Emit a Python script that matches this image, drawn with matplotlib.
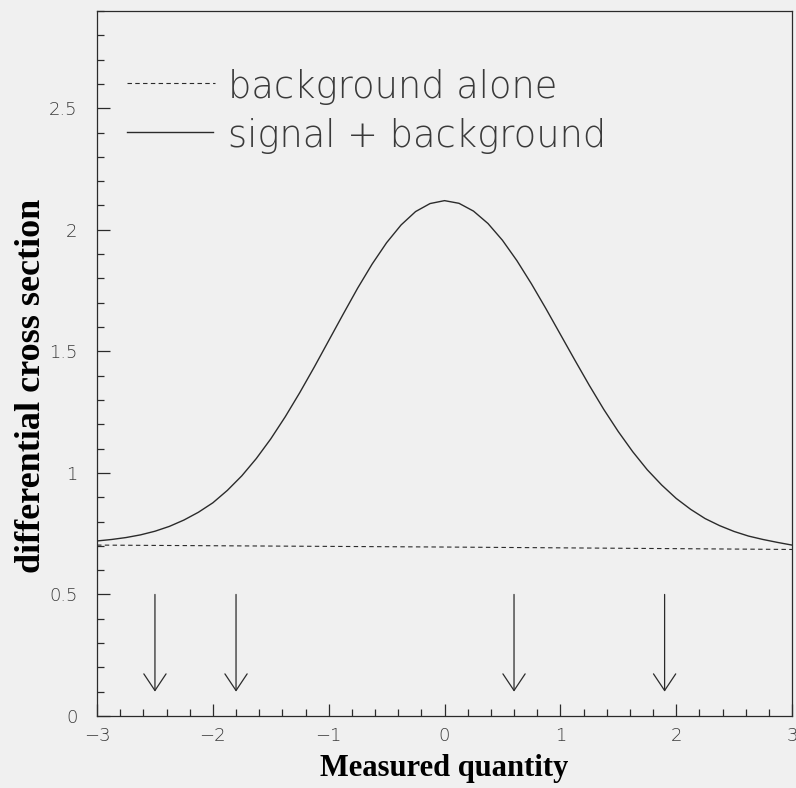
import numpy as np
import matplotlib.pyplot as plt
from matplotlib.ticker import MultipleLocator

# ------------------------------------------------------------
#  data
# ------------------------------------------------------------
x_sig = [-3.0, -2.875, -2.75, -2.625, -2.5, -2.375, -2.25, -2.125,
         -2.0, -1.875, -1.75, -1.625, -1.5, -1.375, -1.25, -1.125,
         -1.0, -0.875, -0.75, -0.625, -0.5, -0.375, -0.25, -0.125,
         0.0, 0.125, 0.25, 0.375, 0.5, 0.625, 0.75, 0.875,
         1.0, 1.125, 1.25, 1.375, 1.5, 1.625, 1.75, 1.875,
         2.0, 2.125, 2.25, 2.375, 2.5, 2.625, 2.75, 2.875, 3.0]
y_sig = [0.720, 0.726, 0.734, 0.745, 0.760, 0.780, 0.806, 0.838,
         0.877, 0.928, 0.988, 1.059, 1.140, 1.231, 1.330, 1.435,
         1.544, 1.653, 1.760, 1.859, 1.947, 2.020, 2.075, 2.108,
         2.120, 2.109, 2.077, 2.026, 1.957, 1.873, 1.778, 1.676,
         1.570, 1.464, 1.360, 1.261, 1.170, 1.087, 1.013, 0.950,
         0.895, 0.850, 0.812, 0.783, 0.759, 0.740, 0.726, 0.714, 0.703]

x_bkg = [-3.0, 0.0, 3.0]
y_bkg = [0.703, 0.695, 0.685]

arrow_x = [-2.5, -1.8, 0.6, 1.9]
arrow_top = 0.5
arrow_tip = 0.1

legend_labels = ["background alone", "signal + background"]
xlabel = "Measured quantity"
ylabel = "differential cross section"

# ------------------------------------------------------------
#  style
# ------------------------------------------------------------
bg = '#f0f0f0'
ink = '#2b2b2b'
thin = {'family': 'DejaVu Sans', 'weight': 'light'}

fig = plt.figure(figsize=(7.96, 7.88), dpi=100, facecolor=bg)
ax = fig.add_axes([0.1219, 0.0914, 0.8731, 0.8946], facecolor=bg)

ax.plot(x_sig, y_sig, color=ink, lw=1.0)
ax.plot(x_bkg, y_bkg, color=ink, lw=0.8, linestyle=(0, (4, 3)))

for xa in arrow_x:
    ax.annotate('', xy=(xa, arrow_tip), xytext=(xa, arrow_top),
                arrowprops=dict(arrowstyle='->, head_length=0.6, head_width=0.4',
                                color=ink, lw=0.9, shrinkA=0, shrinkB=0,
                                mutation_scale=20))

# legend drawn by hand, like the original
ax.plot([0.043, 0.170], [0.898, 0.898], transform=ax.transAxes,
        color=ink, lw=0.8, linestyle=(0, (4, 3)))
ax.plot([0.043, 0.167], [0.828, 0.828], transform=ax.transAxes,
        color=ink, lw=1.0)
ax.text(0.188, 0.8766, legend_labels[0], transform=ax.transAxes,
        fontsize=26.5, color='#3a3a3a', va='baseline', fontdict=thin)
ax.text(0.188, 0.807, legend_labels[1], transform=ax.transAxes,
        fontsize=26.5, color='#3a3a3a', va='baseline', fontdict=thin)

ax.set_xlim(-3, 3)
ax.set_ylim(0, 2.9)
ax.xaxis.set_major_locator(MultipleLocator(1))
ax.xaxis.set_minor_locator(MultipleLocator(0.2))
ax.yaxis.set_major_locator(MultipleLocator(0.5))
ax.yaxis.set_minor_locator(MultipleLocator(0.1))
ax.yaxis.set_major_formatter(lambda v, p: f"{v:g}")

ax.tick_params(which='both', direction='in', top=False, right=False,
               color=ink, width=0.9, labelcolor='#3a3a3a', labelsize=13)
ax.tick_params(which='major', length=9)
ax.tick_params(which='minor', length=5)
ax.tick_params(axis='x', pad=8)
ax.tick_params(axis='y', pad=14)
for lab in ax.get_xticklabels() + ax.get_yticklabels():
    lab.set_fontweight('light')

for s in ax.spines.values():
    s.set_color(ink)
    s.set_linewidth(0.9)

ax.set_xlabel(xlabel, fontsize=22, fontweight='bold',
              family='Liberation Serif', va='center')
ax.set_ylabel(ylabel, fontsize=26, fontweight='bold',
              family='Liberation Serif', va='center')
ax.xaxis.set_label_coords(0.5, -0.075)
ax.yaxis.set_label_coords(-0.095, 0.468)

fig.savefig('out.png', dpi=100, facecolor=bg)
